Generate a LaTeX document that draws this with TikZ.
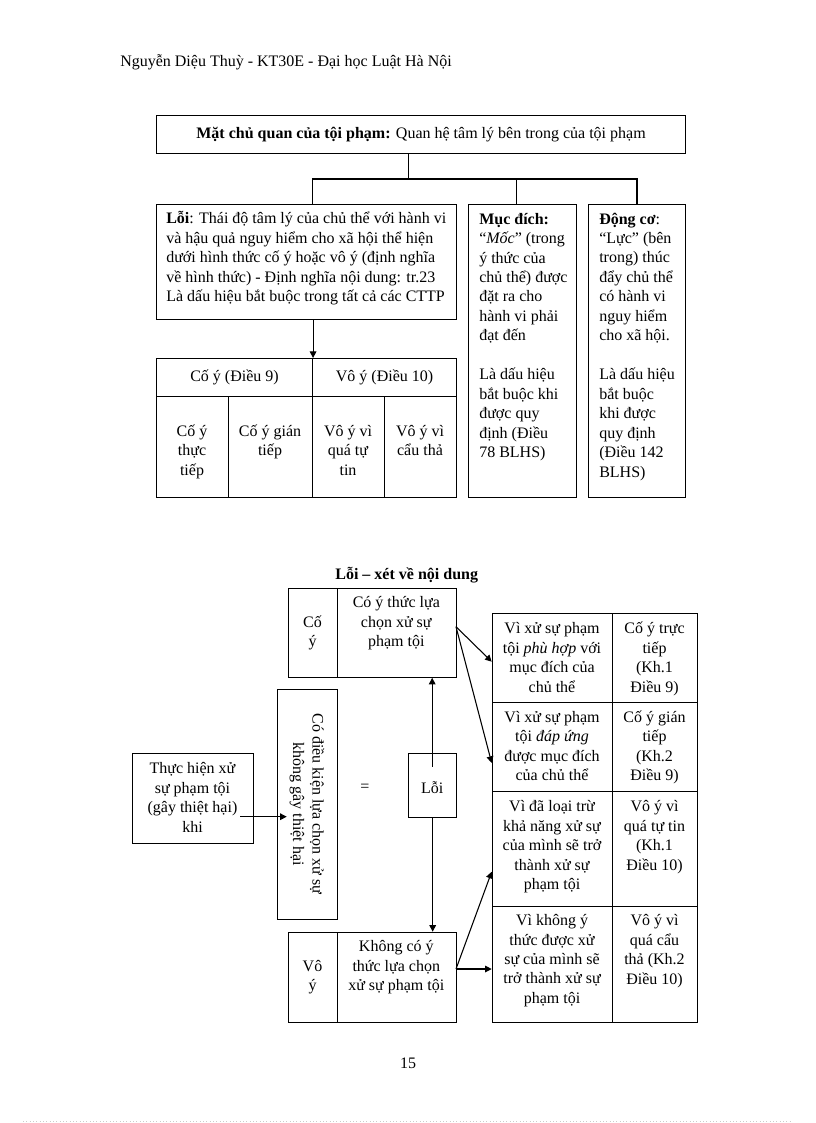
\documentclass[tikz,border=0pt]{standalone}
\usepackage{fontspec}
\setmainfont{Liberation Serif}
\usetikzlibrary{arrows.meta}
\newcommand\myfnt{\fontsize{12pt}{14.6pt}\selectfont}
\begin{document}
\begin{tikzpicture}[x=0.75pt,y=-0.75pt,
  box/.style={draw, line width=0.8pt, inner sep=0pt, anchor=north west, font=\myfnt},
  wh/.style 2 args={minimum width={(#1)*0.75pt}, minimum height={(#2)*0.75pt}},
  txt/.style={inner sep=0pt, align=center, font=\myfnt},
  ltxt/.style={inner sep=0pt, align=left, font=\myfnt, anchor=west},
  ln/.style={line width=0.8pt},
  arr/.style={line width=0.8pt, -{Triangle[length=5pt,width=5pt]}},
]
\fill[white] (0,0) rectangle (816,1123);
\useasboundingbox (0,0) rectangle (816,1123);

% header
\node[txt, anchor=base west] (hdr) at (120,67) {Nguyễn Diệu Thuỳ - KT30E - Đại học Luật Hà Nội};

% ---------- upper diagram ----------
\node[box, wh={529}{38}] (top) at (156,115) {\textbf{Mặt chủ quan của tội phạm:} Quan hệ tâm lý bên trong của tội phạm};

\node[box, wh={300}{115}] (loi) at (156,204) {};
\node[ltxt] (loit) at (166,259) {\strut\textbf{Lỗi}: Thái độ tâm lý của chủ thể với hành vi\\ và hậu quả nguy hiểm cho xã hội thể hiện\\ dưới hình thức cố ý hoặc vô ý (định nghĩa\\ về hình thức) - Định nghĩa nội dung: tr.23\\ Là dấu hiệu bắt buộc trong tất cả các CTTP\strut};

\node[box, wh={108}{293}] (md) at (468,204) {};
\node[ltxt] (mdt) at (479,337) {\strut\textbf{Mục đích:}\\ “\textit{Mốc}” (trong\\ ý thức của\\ chủ thể) được\\ đặt ra cho\\ hành vi phải\\ đạt đến\\ \strut\\ Là dấu hiệu\\ bắt buộc khi\\ được quy\\ định (Điều\\ 78 BLHS)\strut};

\node[box, wh={97}{293}] (dc) at (588,204) {};
\node[ltxt] (dct) at (599,346.7) {\strut\textbf{Động cơ}:\\ “Lực” (bên\\ trong) thúc\\ đẩy chủ thể\\ có hành vi\\ nguy hiểm\\ cho xã hội.\\ \strut\\ Là dấu hiệu\\ bắt buộc\\ khi được\\ quy định\\ (Điều 142\\ BLHS)\strut};

\coordinate (bj) at (408.7,179);
\coordinate (b1) at (312.5,179);
\coordinate (b2) at (516.8,179);
\coordinate (b3) at (637,179);
\draw[ln] (top.south -| bj) -- (bj);
\draw[ln] (b1 |- loi.north) -- (b1) -- (b3) -- (b3 |- dc.north);
\draw[ln] (b2) -- (b2 |- md.north);

% table of forms
\node[box, wh={156}{38}] (cy) at (156,358) {Cố ý (Điều 9)};
\node[box, wh={144}{38}] (vy) at (312,358) {Vô ý (Điều 10)};
\node[box, wh={72}{101}] (c1) at (156,396) {};
\node[box, wh={84}{101}] (c2) at (228,396) {};
\node[box, wh={72}{101}] (c3) at (312,396) {};
\node[box, wh={72}{101}] (c4) at (384,396) {};
\node[txt] (c1t) at (192,452) {\strut Cố ý\\ thực\\ tiếp\strut};
\node[txt] (c2t) at (270,442) {\strut Cố ý gián\\ tiếp\strut};
\node[txt] (c3t) at (348,452) {\strut Vô ý vì\\ quá tự\\ tin\strut};
\node[txt] (c4t) at (420,442) {\strut Vô ý vì\\ cẩu thả\strut};
\draw[arr] (loi.south -| cy.north east) -- (cy.north east);

% ---------- lower diagram ----------
\node[txt, font=\myfnt\bfseries] (title) at (406.7,575) {Lỗi – xét về nội dung};

\node[box, wh={48.4}{89}] (coL) at (288.3,587.7) {};
\node[box, wh={119.3}{89}] (coR) at (336.7,587.7) {};
\node[txt] (coLt) at (312.5,633) {\strut Cố\\ ý\strut};
\node[txt] (coRt) at (396.3,623.5) {\strut Có ý thức lựa\\ chọn xử sự\\ phạm tội\strut};

\node[box, wh={60}{230}] (vb) at (276.7,689) {};
\node[txt, rotate=-90] (vbt) at (306.7,804) {\strut Có điều kiện lựa chọn xử sự\\ không gây thiệt hại\strut};

\node[box, wh={120.4}{90}] (th) at (132.3,752.7) {};
\node[txt] (tht) at (192.5,799) {\strut Thực hiện xử\\ sự phạm tội\\ (gây thiệt hại)\\ khi\strut};

\node[txt] (eq) at (365,788.3) {=};

\node[box, wh={47.7}{64}] (lo) at (408.3,752.7) {};
\node[txt] (lot) at (432.2,788) {Lỗi};

\node[box, wh={48.4}{90}] (voL) at (288.3,931.7) {};
\node[box, wh={119.3}{90}] (voR) at (336.7,931.7) {};
\node[txt] (voLt) at (312.5,977) {\strut Vô\\ ý\strut};
\node[txt] (voRt) at (396.3,967.5) {\strut Không có ý\\ thức lựa chọn\\ xử sự phạm tội\strut};

% right table
\node[box, wh={120.6}{89}] (r1a) at (491.7,612.7) {};
\node[box, wh={84.4}{89}] (r1b) at (612.3,612.7) {};
\node[box, wh={120.6}{89.3}] (r2a) at (491.7,701.7) {};
\node[box, wh={84.4}{89.3}] (r2b) at (612.3,701.7) {};
\node[box, wh={120.6}{115}] (r3a) at (491.7,791) {};
\node[box, wh={84.4}{115}] (r3b) at (612.3,791) {};
\node[box, wh={120.6}{115.7}] (r4a) at (491.7,906) {};
\node[box, wh={84.4}{115.7}] (r4b) at (612.3,906) {};

\node[txt] (r1at) at (552,659.2) {\strut Vì xử sự phạm\\ tội \textit{phù hợp} với\\ mục đích của\\ chủ thể\strut};
\node[txt] (r1bt) at (654.5,659.2) {\strut Cố ý trực\\ tiếp\\ (Kh.1\\ Điều 9)\strut};
\node[txt] (r2at) at (552,747.5) {\strut Vì xử sự phạm\\ tội \textit{đáp ứng}\\ được mục đích\\ của chủ thể\strut};
\node[txt] (r2bt) at (654.5,747.5) {\strut Cố ý gián\\ tiếp\\ (Kh.2\\ Điều 9)\strut};
\node[txt] (r3at) at (552,846.9) {\strut Vì đã loại trừ\\ khả năng xử sự\\ của mình sẽ trở\\ thành xử sự\\ phạm tội\strut};
\node[txt] (r3bt) at (654.5,837.2) {\strut Vô ý vì\\ quá tự tin\\ (Kh.1\\ Điều 10)\strut};
\node[txt] (r4at) at (552,960.6) {\strut Vì không ý\\ thức được xử\\ sự của mình sẽ\\ trở thành xử sự\\ phạm tội\strut};
\node[txt] (r4bt) at (654.5,950.9) {\strut Vô ý vì\\ quá cẩu\\ thả (Kh.2\\ Điều 10)\strut};

% connectors
\coordinate (a1) at (240,816.7);
\coordinate (a2) at (286.7,816.7);
\draw[arr] (a1) -- (a2);

\coordinate (l1) at (432.2,766.7);
\draw[arr] (l1) -- (l1 |- coR.south);
\draw[arr] (lo.south) -- (lo.south |- voR.north);

\coordinate (o1) at (456,626.7);
\coordinate (t1) at (491.7,661.7);
\coordinate (t2) at (491.7,763);
\draw[arr] (o1) -- (t1);
\draw[arr] (o1) -- (t2);

\coordinate (o2) at (456,969);
\coordinate (t3) at (491.7,871.7);
\coordinate (t4) at (491.7,969);
\draw[arr] (o2) -- (t3);
\draw[arr] (o2) -- (t4);

% page number and page edge
\node[txt] (pg) at (408,1063) {15};
\draw[gray!40, line width=0.5pt, dotted] (23,1121) -- (791,1121);
\end{tikzpicture}
\end{document}
